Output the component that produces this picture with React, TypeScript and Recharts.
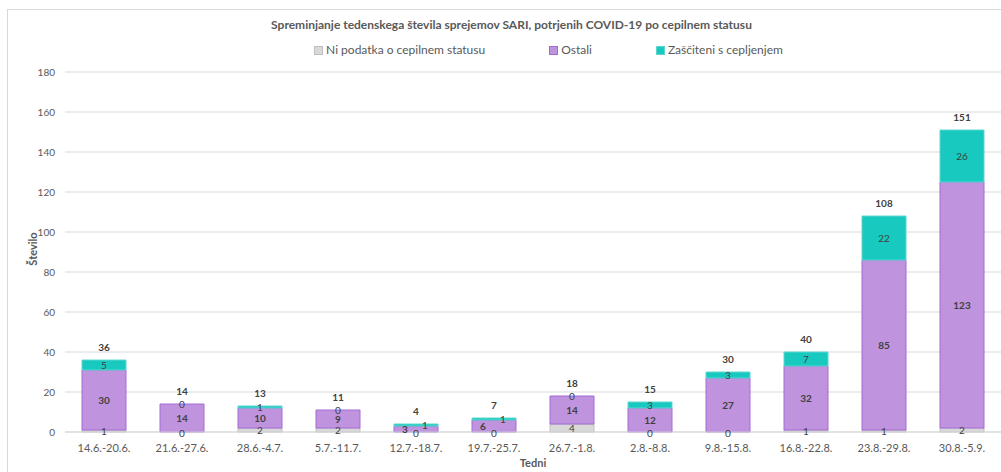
import {
  Bar,
  BarChart,
  CartesianGrid,
  LabelList,
  Legend,
  XAxis,
  YAxis,
} from 'recharts';

const weeks = [
  '14.6.-20.6.',
  '21.6.-27.6.',
  '28.6.-4.7.',
  '5.7.-11.7.',
  '12.7.-18.7.',
  '19.7.-25.7.',
  '26.7.-1.8.',
  '2.8.-8.8.',
  '9.8.-15.8.',
  '16.8.-22.8.',
  '23.8.-29.8.',
  '30.8.-5.9.',
];
const niPodatka = [1, 0, 2, 2, 0, 0, 4, 0, 0, 1, 1, 2];
const ostali = [30, 14, 10, 9, 3, 6, 14, 12, 27, 32, 85, 123];
const zasciteni = [5, 0, 1, 0, 1, 1, 0, 3, 3, 7, 22, 26];
const yTicks = [0, 20, 40, 60, 80, 100, 120, 140, 160, 180];

const FONT = 'Lato, "Noto Sans", sans-serif';
const TEXT = '#595959';
const LABEL = '#404040';

const COLORS = {
  ni: { fill: '#d9d9d9', stroke: '#bfbfbf' },
  ostali: { fill: '#bf93dd', stroke: '#a46bd6' },
  zasc: { fill: '#17c9bf', stroke: '#5fd6cf' },
};

const data = weeks.map((week, i) => ({
  week,
  ni: niPodatka[i],
  ostali: ostali[i],
  zasc: zasciteni[i],
  total: niPodatka[i] + ostali[i] + zasciteni[i],
}));

const legendItems = [
  { name: 'Ni podatka o cepilnem statusu', ...COLORS.ni },
  { name: 'Ostali', ...COLORS.ostali },
  { name: 'Zaščiteni s cepljenjem', ...COLORS.zasc },
];

// box of the rect a label belongs to (recharts passes it either flat or as viewBox)
const box = (p: any) => (p.viewBox && p.viewBox.width != null ? p.viewBox : p);

// zero-height bars are skipped by recharts, so labels carry the week, not the position
const weekOf = (entry: any) => entry?.payload?.week ?? entry?.week;

// Excel nudges the small segment labels sideways when they would collide
function crowded(i: number, unit: number) {
  const oc = (ostali[i] * unit) / 2;
  const zc = -(zasciteni[i] * unit) / 2;
  return Math.abs(oc - zc) < 8;
}

const common = {
  textAnchor: 'middle' as const,
  dominantBaseline: 'central' as const,
  fontSize: 10,
  fill: LABEL,
};

function OstaliLabel(props: any) {
  const { x, y, width, height } = box(props);
  const i = weeks.indexOf(props.value);
  if (i < 0) return null;
  const h = Math.abs(height);
  const unit = h / ostali[i];
  const cx = x + width / 2;
  const zh = zasciteni[i] * unit;
  return (
    <g>
      <text {...common} x={crowded(i, unit) ? cx - 11 : cx} y={y + h / 2} fontWeight="bold">
        {ostali[i]}
      </text>
      {zasciteni[i] === 0 && (
        <text {...common} x={cx} y={y}>
          0
        </text>
      )}
      {niPodatka[i] === 0 && (
        <text {...common} x={cx} y={y + h + 1}>
          0
        </text>
      )}
      <text {...common} x={cx} y={y - zh - 13} fontWeight="bold">
        {niPodatka[i] + ostali[i] + zasciteni[i]}
      </text>
    </g>
  );
}

function ZascLabel(props: any) {
  const { x, y, width, height } = box(props);
  const i = weeks.indexOf(props.value);
  if (i < 0) return null;
  const h = Math.abs(height);
  const unit = h / zasciteni[i];
  const cx = x + width / 2;
  return (
    <text {...common} x={crowded(i, unit) ? cx + 9 : cx} y={y + h / 2}>
      {zasciteni[i]}
    </text>
  );
}

function YTitle(props: any) {
  const vb = props.viewBox;
  const cx = vb.x + 32;
  const cy = vb.y + vb.height / 2 - 3;
  return (
    <text
      x={cx}
      y={cy}
      transform={`rotate(-90, ${cx}, ${cy})`}
      textAnchor="middle"
      dominantBaseline="central"
      fontSize={11}
      fontWeight="bold"
      fill={TEXT}
    >
      Število
    </text>
  );
}

function ChartLegend() {
  return (
    <div
      style={{
        display: 'flex',
        justifyContent: 'center',
        gap: 64,
        paddingLeft: 96,
        fontFamily: FONT,
        fontSize: 12,
        color: TEXT,
        lineHeight: '16px',
      }}
    >
      {legendItems.map((it) => (
        <span key={it.name} style={{ display: 'flex', alignItems: 'center' }}>
          <span
            style={{
              display: 'inline-block',
              width: 7,
              height: 7,
              background: it.fill,
              border: `1px solid ${it.stroke}`,
              marginRight: 3,
            }}
          />
          {it.name}
        </span>
      ))}
    </div>
  );
}

export default function App() {
  return (
    <div
      style={{
        position: 'absolute',
        left: 0,
        top: 0,
        width: 1001,
        height: 472,
        overflow: 'hidden',
        background: '#fff',
      }}
    >
      <div
        style={{
          position: 'absolute',
          left: 7,
          top: 9,
          width: 1010,
          height: 480,
          border: '1px solid #d9d9d9',
        }}
      />
      <div
        style={{
          position: 'absolute',
          top: 17,
          left: 22,
          width: 979,
          textAlign: 'center',
          fontFamily: FONT,
          fontWeight: 'bold',
          fontSize: 12,
          color: TEXT,
        }}
      >
        Spreminjanje tedenskega števila sprejemov SARI, potrjenih COVID-19 po cepilnem statusu
      </div>
      <BarChart
        width={1001}
        height={472}
        data={data}
        margin={{ top: 56, right: 0, bottom: 0, left: 0 }}
        barCategoryGap={0}
        style={{ fontFamily: FONT }}
      >
        <CartesianGrid vertical={false} stroke="#d9d9d9" />
        <Legend
          verticalAlign="top"
          content={() => <ChartLegend />}
          wrapperStyle={{ top: 42, left: 0, width: 1001 }}
        />
        <XAxis
          dataKey="week"
          height={40}
          tickLine={false}
          axisLine={{ stroke: '#d9d9d9' }}
          tick={{ fontSize: 11, fill: TEXT }}
          tickMargin={6}
          interval={0}
          label={{
            value: 'Tedni',
            position: 'insideBottom',
            offset: 5,
            fontSize: 11,
            fontWeight: 'bold',
            fill: TEXT,
          }}
        />
        <YAxis
          width={65}
          domain={[0, 180]}
          ticks={yTicks}
          tickLine={false}
          axisLine={false}
          tickMargin={4}
          tick={{ fontSize: 10, fill: TEXT }}
          label={{ content: YTitle }}
        />
        <Bar
          dataKey="ni"
          stackId="a"
          barSize={44}
          fill={COLORS.ni.fill}
          stroke={COLORS.ni.stroke}
          isAnimationActive={false}
        >
          <LabelList dataKey="ni" position="center" fill={LABEL} fontSize={10} />
        </Bar>
        <Bar
          dataKey="ostali"
          stackId="a"
          barSize={44}
          fill={COLORS.ostali.fill}
          stroke={COLORS.ostali.stroke}
          isAnimationActive={false}
        >
          <LabelList valueAccessor={weekOf} content={OstaliLabel} />
        </Bar>
        <Bar
          dataKey="zasc"
          stackId="a"
          barSize={44}
          fill={COLORS.zasc.fill}
          stroke={COLORS.zasc.stroke}
          isAnimationActive={false}
        >
          <LabelList valueAccessor={weekOf} content={ZascLabel} />
        </Bar>
      </BarChart>
    </div>
  );
}
